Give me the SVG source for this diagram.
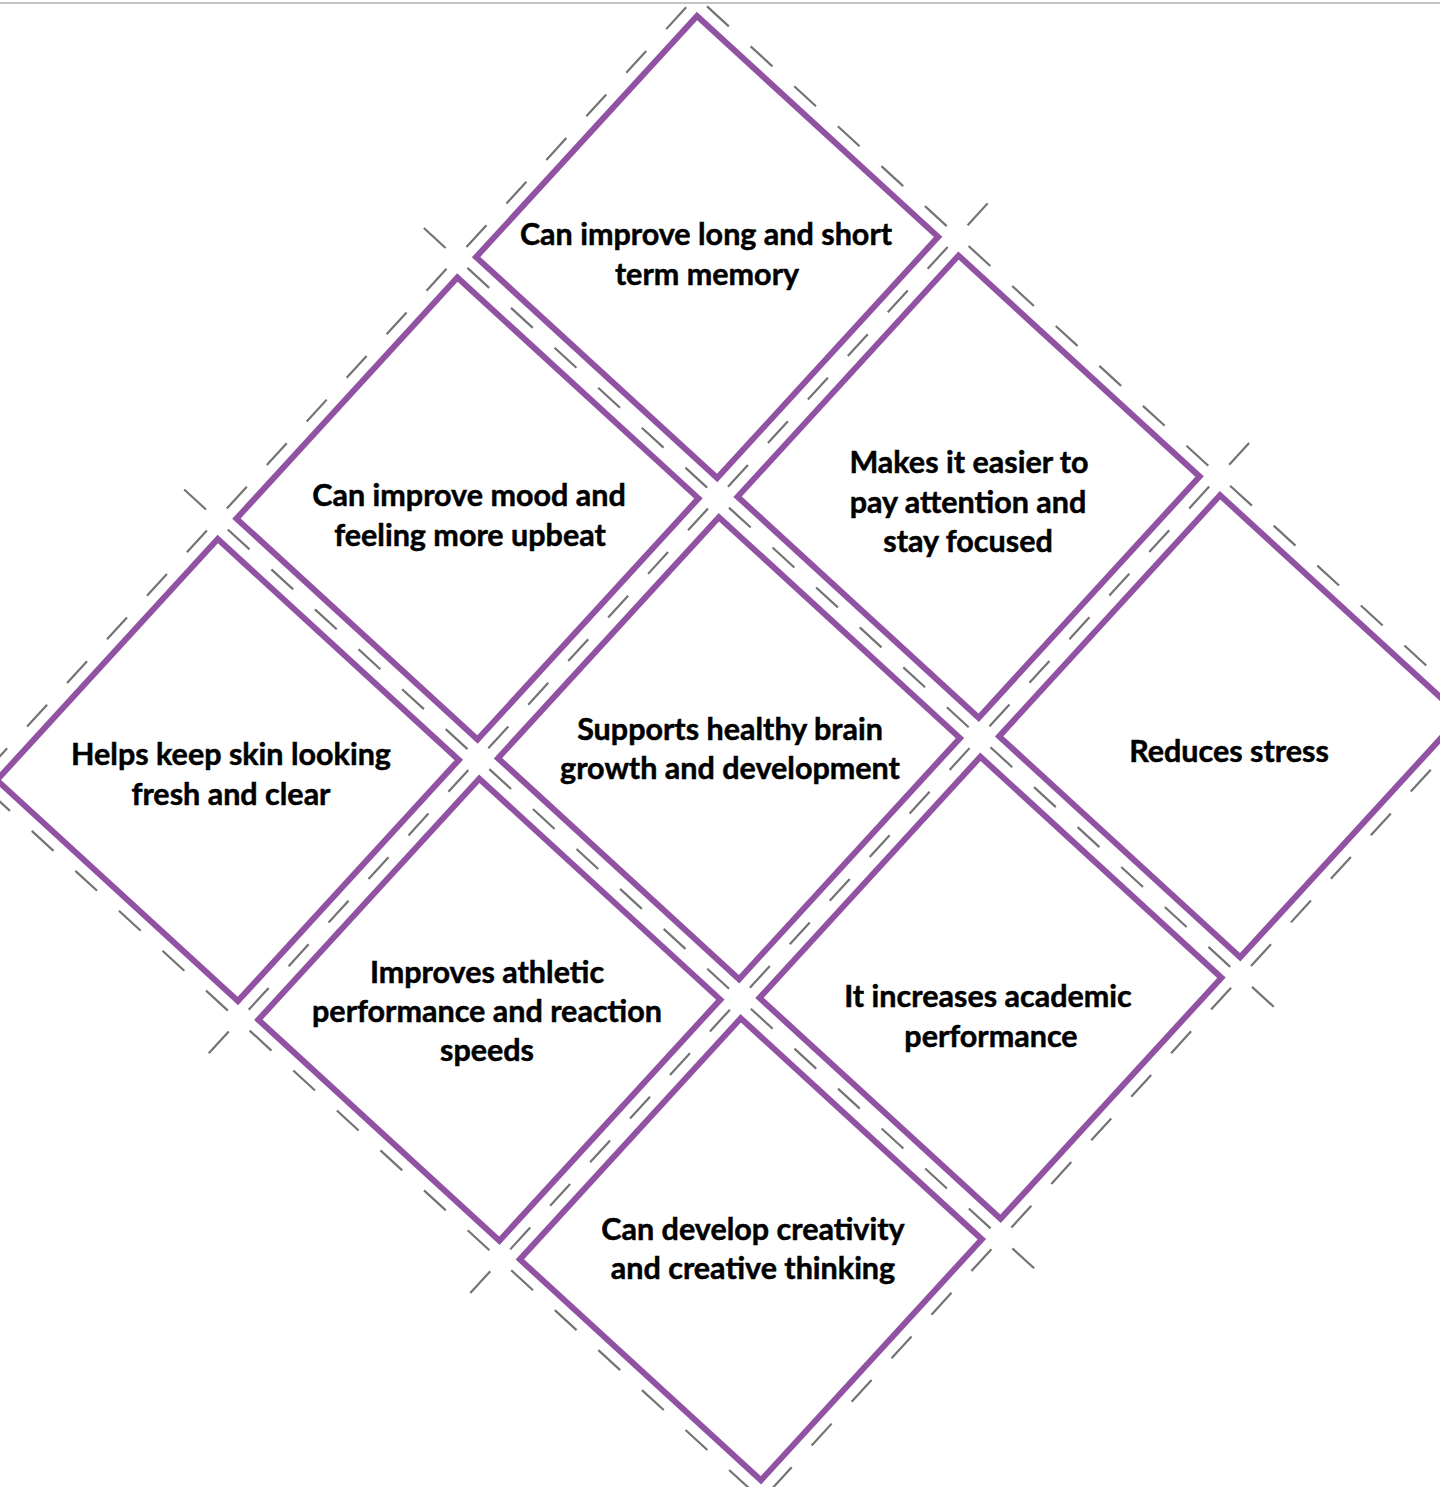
<svg xmlns="http://www.w3.org/2000/svg" width="1440" height="1487" viewBox="0 0 1440 1487">
<style>
.d{fill:#ffffff;stroke:#9152A3;stroke-width:6;stroke-linejoin:miter}
.c{stroke:#737373;stroke-width:2.2;stroke-dasharray:29.56 29.56;fill:none}
.t{font-family:Lato,"Open Sans","Liberation Sans",sans-serif;font-weight:700;font-size:30.5px;fill:#000000;stroke:#000000;stroke-width:0.5;text-anchor:middle}
</style>
<rect x="0" y="0" width="1440" height="1487" fill="#ffffff"/>
<line x1="0" y1="3" x2="1440" y2="3" stroke="#c4c4c4" stroke-width="2"/>
<g id="connectors" transform="translate(697 16) rotate(42.5)">
<line class="c" x1="-13.85" y1="-58.19" x2="-13.85" y2="1094.59"/>
<line class="c" x1="340.85" y1="-58.19" x2="340.85" y2="1094.59"/>
<line class="c" x1="695.55" y1="-58.19" x2="695.55" y2="1094.59"/>
<line class="c" x1="1050.25" y1="-58.19" x2="1050.25" y2="1094.59"/>
<line class="c" y1="-13.85" x1="-58.19" y2="-13.85" x2="1094.59"/>
<line class="c" y1="340.85" x1="-58.19" y2="340.85" x2="1094.59"/>
<line class="c" y1="695.55" x1="-58.19" y2="695.55" x2="1094.59"/>
<line class="c" y1="1050.25" x1="-58.19" y2="1050.25" x2="1094.59"/>
</g>
<g id="node-memory">
<rect class="d" transform="translate(697 16) rotate(42.5)" x="0" y="0" width="327" height="327"/>
<text class="t" x="706" y="245">Can improve long and short</text>
<text class="t" x="707" y="285">term memory</text>
</g>
<g id="node-attention">
<rect class="d" transform="translate(697 16) rotate(42.5)" x="354.7" y="0" width="327" height="327"/>
<text class="t" x="969" y="473">Makes it easier to</text>
<text class="t" x="968" y="513">pay attention and</text>
<text class="t" x="968" y="552">stay focused</text>
</g>
<g id="node-stress">
<rect class="d" transform="translate(697 16) rotate(42.5)" x="709.4" y="0" width="327" height="327"/>
<text class="t" x="1229" y="762">Reduces stress</text>
</g>
<g id="node-mood">
<rect class="d" transform="translate(697 16) rotate(42.5)" x="0" y="354.7" width="327" height="327"/>
<text class="t" x="469" y="506">Can improve mood and</text>
<text class="t" x="470" y="546">feeling more upbeat</text>
</g>
<g id="node-brain">
<rect class="d" transform="translate(697 16) rotate(42.5)" x="354.7" y="354.7" width="327" height="327"/>
<text class="t" x="730" y="740">Supports healthy brain</text>
<text class="t" x="730" y="779">growth and development</text>
</g>
<g id="node-academic">
<rect class="d" transform="translate(697 16) rotate(42.5)" x="709.4" y="354.7" width="327" height="327"/>
<text class="t" x="988" y="1007">It increases academic</text>
<text class="t" x="991" y="1047">performance</text>
</g>
<g id="node-skin">
<rect class="d" transform="translate(697 16) rotate(42.5)" x="0" y="709.4" width="327" height="327"/>
<text class="t" x="231" y="765">Helps keep skin looking</text>
<text class="t" x="231" y="805">fresh and clear</text>
</g>
<g id="node-athletic">
<rect class="d" transform="translate(697 16) rotate(42.5)" x="354.7" y="709.4" width="327" height="327"/>
<text class="t" x="487" y="983">Improves athletic</text>
<text class="t" x="487" y="1022">performance and reaction</text>
<text class="t" x="487" y="1061">speeds</text>
</g>
<g id="node-creativity">
<rect class="d" transform="translate(697 16) rotate(42.5)" x="709.4" y="709.4" width="327" height="327"/>
<text class="t" x="753" y="1240">Can develop creativity</text>
<text class="t" x="753" y="1279">and creative thinking</text>
</g>
</svg>
